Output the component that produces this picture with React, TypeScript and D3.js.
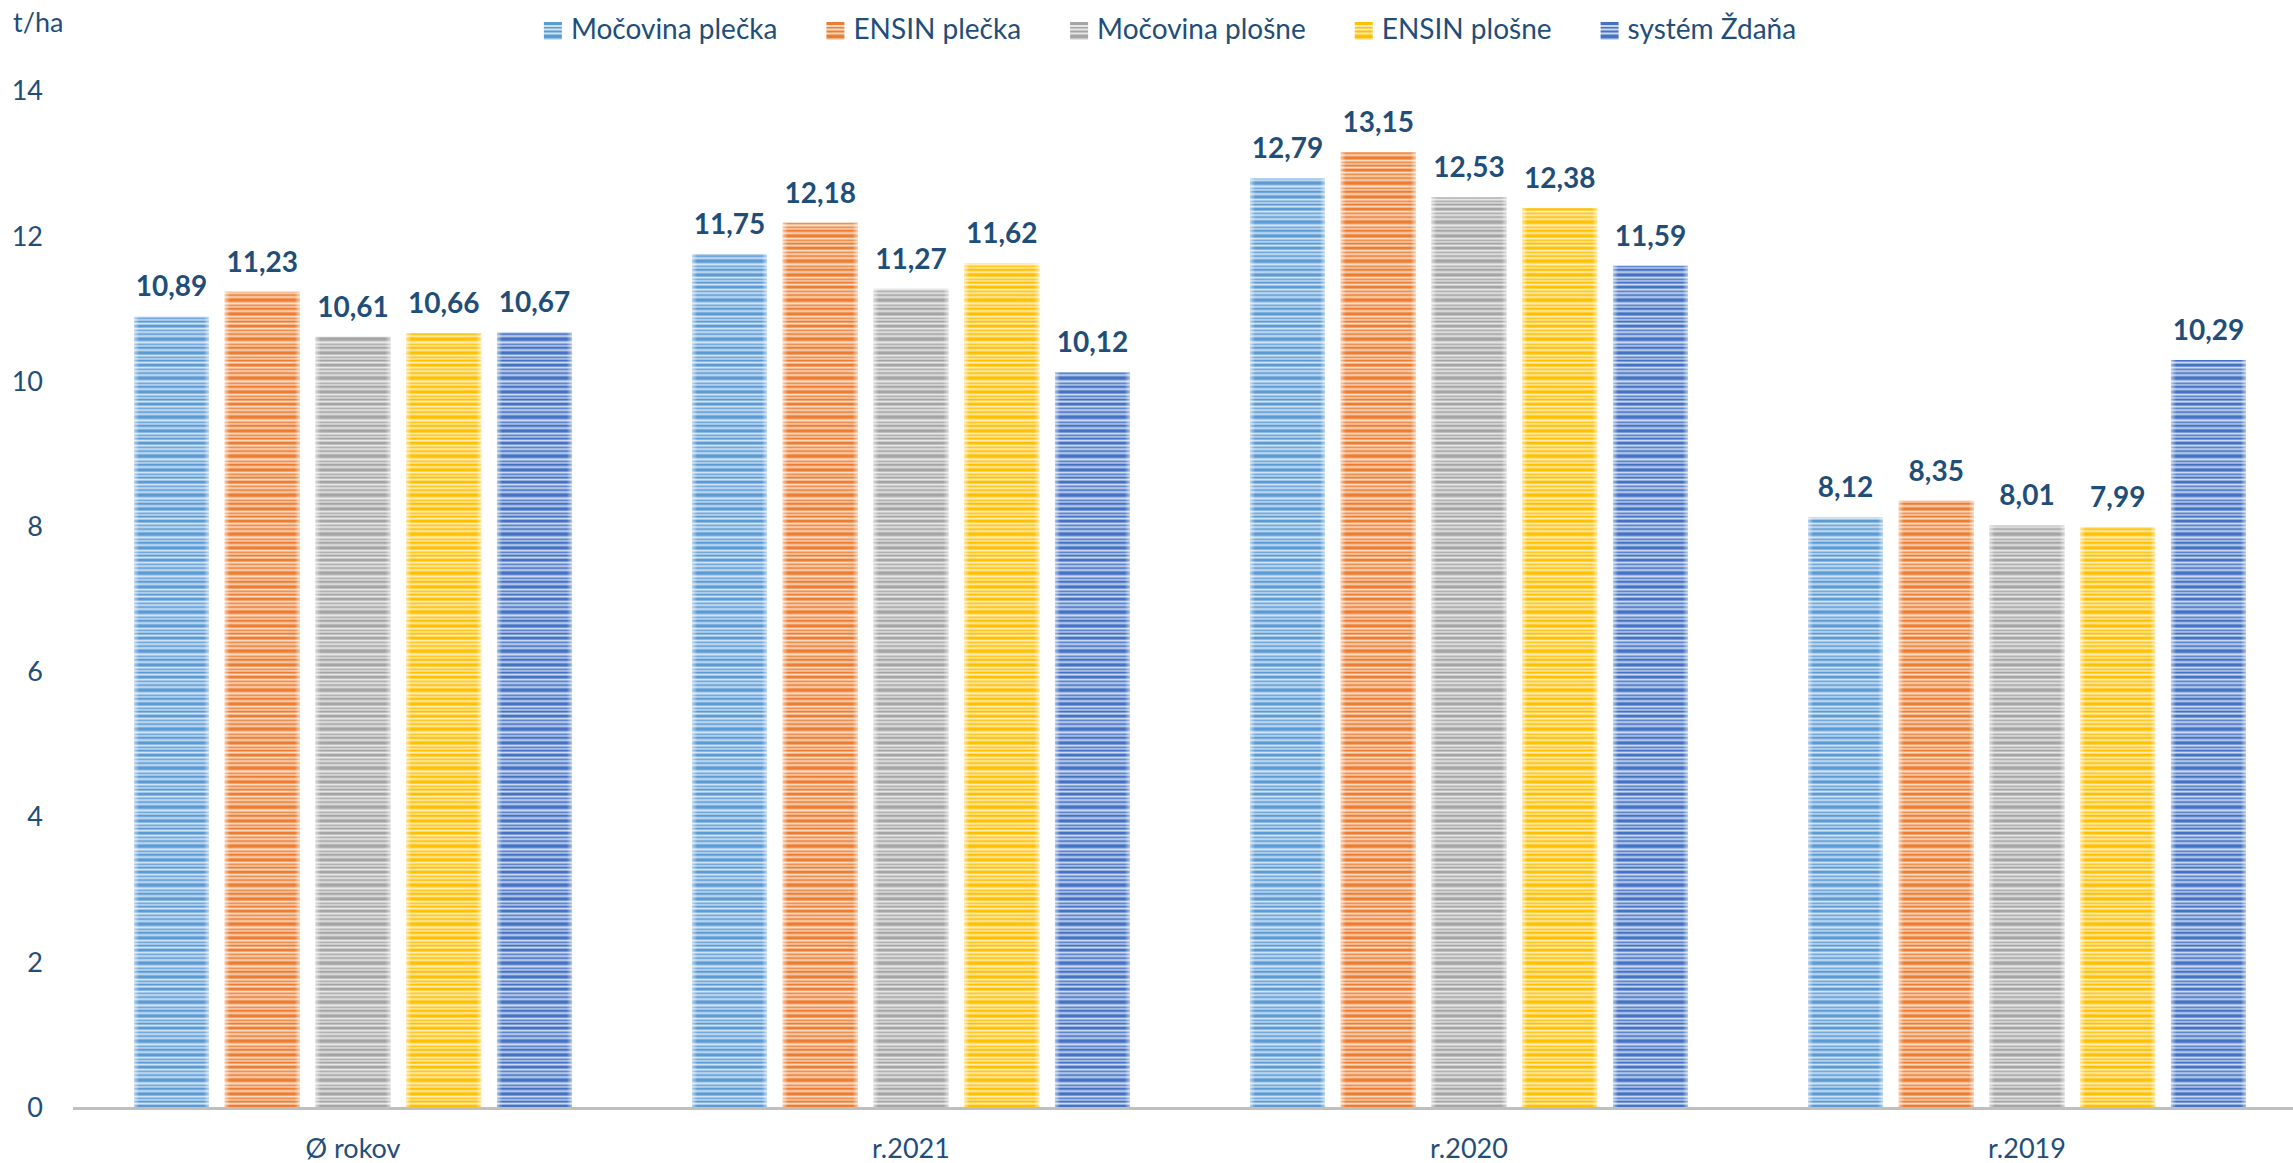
import * as d3 from "d3";

const WIDTH = 2293;
const HEIGHT = 1163;
const MARGIN = { top: 90.6, right: -13, bottom: 56, left: 74 };
const FONT = "Lato, 'Open Sans', sans-serif";
const TEXT_COLOR = "#1f4e79";

const categories = ["Ø rokov", "r.2021", "r.2020", "r.2019"];
const seriesNames = ["Močovina plečka", "ENSIN plečka", "Močovina plošne", "ENSIN plošne", "systém Ždaňa"];
const seriesColors = ["#5b9bd5", "#ed7d31", "#a5a5a5", "#ffc000", "#4472c4"];

const mocovinaPlecka = [10.89, 11.75, 12.79, 8.12];
const ensinPlecka = [11.23, 12.18, 13.15, 8.35];
const mocovinaPlosne = [10.61, 11.27, 12.53, 8.01];
const ensinPlosne = [10.66, 11.62, 12.38, 7.99];
const systemZdana = [10.67, 10.12, 11.59, 10.29];
const seriesValues = [mocovinaPlecka, ensinPlecka, mocovinaPlosne, ensinPlosne, systemZdana];

const yTicks = [0, 2, 4, 6, 8, 10, 12, 14];

// stripes inside one pattern tile: [y, height]
const STRIPES = [
  [0, 3], [5, 1.5], [8.5, 2], [12.5, 4], [19, 1.5], [22, 2.5], [26.5, 3.5], [32, 1.5], [35, 2],
];
const TILE = 39;

function measure(text: string, font: string) {
  const canvas = document.createElement("canvas");
  const ctx = canvas.getContext("2d");
  if (!ctx) return text.length * 14;
  ctx.font = font;
  return ctx.measureText(text).width;
}

export default function App() {
  const boundsWidth = WIDTH - MARGIN.left - MARGIN.right;
  const boundsHeight = HEIGHT - MARGIN.top - MARGIN.bottom;

  const xScale = d3
    .scaleBand()
    .domain(categories)
    .range([0, boundsWidth])
    .paddingInner(0.215)
    .paddingOuter(0.1075);

  const xSub = d3
    .scaleBand()
    .domain(seriesNames)
    .range([0, xScale.bandwidth()])
    .paddingInner(0.173)
    .paddingOuter(0);

  const yScale = d3.scaleLinear().domain([0, 14]).range([boundsHeight, 0]);

  // legend layout, measured from the text
  const legendFont = `28px ${FONT.split(",")[0]}`;
  const ICON = 18;
  const ICON_GAP = 9;
  const ITEM_GAP = 49;
  const itemWidths = seriesNames.map((s) => ICON + ICON_GAP + measure(s, legendFont));
  const legendTotal = d3.sum(itemWidths) + ITEM_GAP * (seriesNames.length - 1);
  let cursor = 1170 - legendTotal / 2;
  const legendX = itemWidths.map((w) => {
    const x = cursor;
    cursor += w + ITEM_GAP;
    return x;
  });

  const bars = categories.map((cat, ci) => (
    <g key={cat} transform={`translate(${xScale(cat)},0)`}>
      {seriesNames.map((s, si) => {
        const v = seriesValues[si][ci];
        const x = xSub(s) ?? 0;
        const w = xSub.bandwidth();
        const y = yScale(v);
        return (
          <g key={s}>
            <rect x={x} y={y} width={w} height={boundsHeight - y} fill={`url(#pat${si})`} />
            <rect x={x} y={y} width={w} height={boundsHeight - y} fill="url(#edge)" />
            <text
              x={x + w / 2}
              y={y - 20}
              textAnchor="middle"
              fontFamily={FONT}
              fontWeight="bold"
              fontSize={28}
              fill={TEXT_COLOR}
            >
              {v.toFixed(2).replace(".", ",")}
            </text>
          </g>
        );
      })}
    </g>
  ));

  return (
    <svg
      width={WIDTH}
      height={HEIGHT}
      style={{ position: "absolute", left: 0, top: 0, background: "#ffffff" }}
    >
      <defs>
        {seriesColors.map((c, i) => (
          <pattern key={i} id={`pat${i}`} patternUnits="userSpaceOnUse" width={20} height={TILE}>
            <rect width={20} height={TILE} fill={d3.interpolateRgb(c, "#ffffff")(0.72)} />
            {STRIPES.map(([sy, sh], k) => (
              <rect key={k} y={sy} width={20} height={sh} fill={c} />
            ))}
          </pattern>
        ))}
        <linearGradient id="edge" x1="0" x2="1" y1="0" y2="0">
          <stop offset="0" stopColor="#ffffff" stopOpacity={0.55} />
          <stop offset="0.07" stopColor="#ffffff" stopOpacity={0} />
          <stop offset="0.93" stopColor="#ffffff" stopOpacity={0} />
          <stop offset="1" stopColor="#ffffff" stopOpacity={0.55} />
        </linearGradient>
      </defs>

      <text x={13} y={32} fontFamily={FONT} fontSize={27} fill={TEXT_COLOR}>
        t/ha
      </text>

      {seriesNames.map((s, i) => (
        <g key={s} transform={`translate(${legendX[i]},22)`}>
          <rect width={ICON} height={ICON} fill={`url(#pat${i})`} />
          <text x={ICON + ICON_GAP} y={17} fontFamily={FONT} fontSize={28} fill={TEXT_COLOR}>
            {s}
          </text>
        </g>
      ))}

      <g transform={`translate(${MARGIN.left},${MARGIN.top})`}>
        {yTicks.map((t) => (
          <text
            key={t}
            x={43 - MARGIN.left}
            y={yScale(t)}
            dy="0.36em"
            textAnchor="end"
            fontFamily={FONT}
            fontSize={27}
            fill={TEXT_COLOR}
          >
            {t}
          </text>
        ))}

        {bars}

        <line
          x1={-1}
          x2={WIDTH}
          y1={boundsHeight + 1.5}
          y2={boundsHeight + 1.5}
          stroke="#bfbfbf"
          strokeWidth={3}
        />

        {categories.map((cat) => (
          <text
            key={cat}
            x={(xScale(cat) ?? 0) + xScale.bandwidth() / 2}
            y={boundsHeight + 51}
            textAnchor="middle"
            fontFamily={FONT}
            fontSize={27}
            fill={TEXT_COLOR}
          >
            {cat}
          </text>
        ))}
      </g>
    </svg>
  );
}
